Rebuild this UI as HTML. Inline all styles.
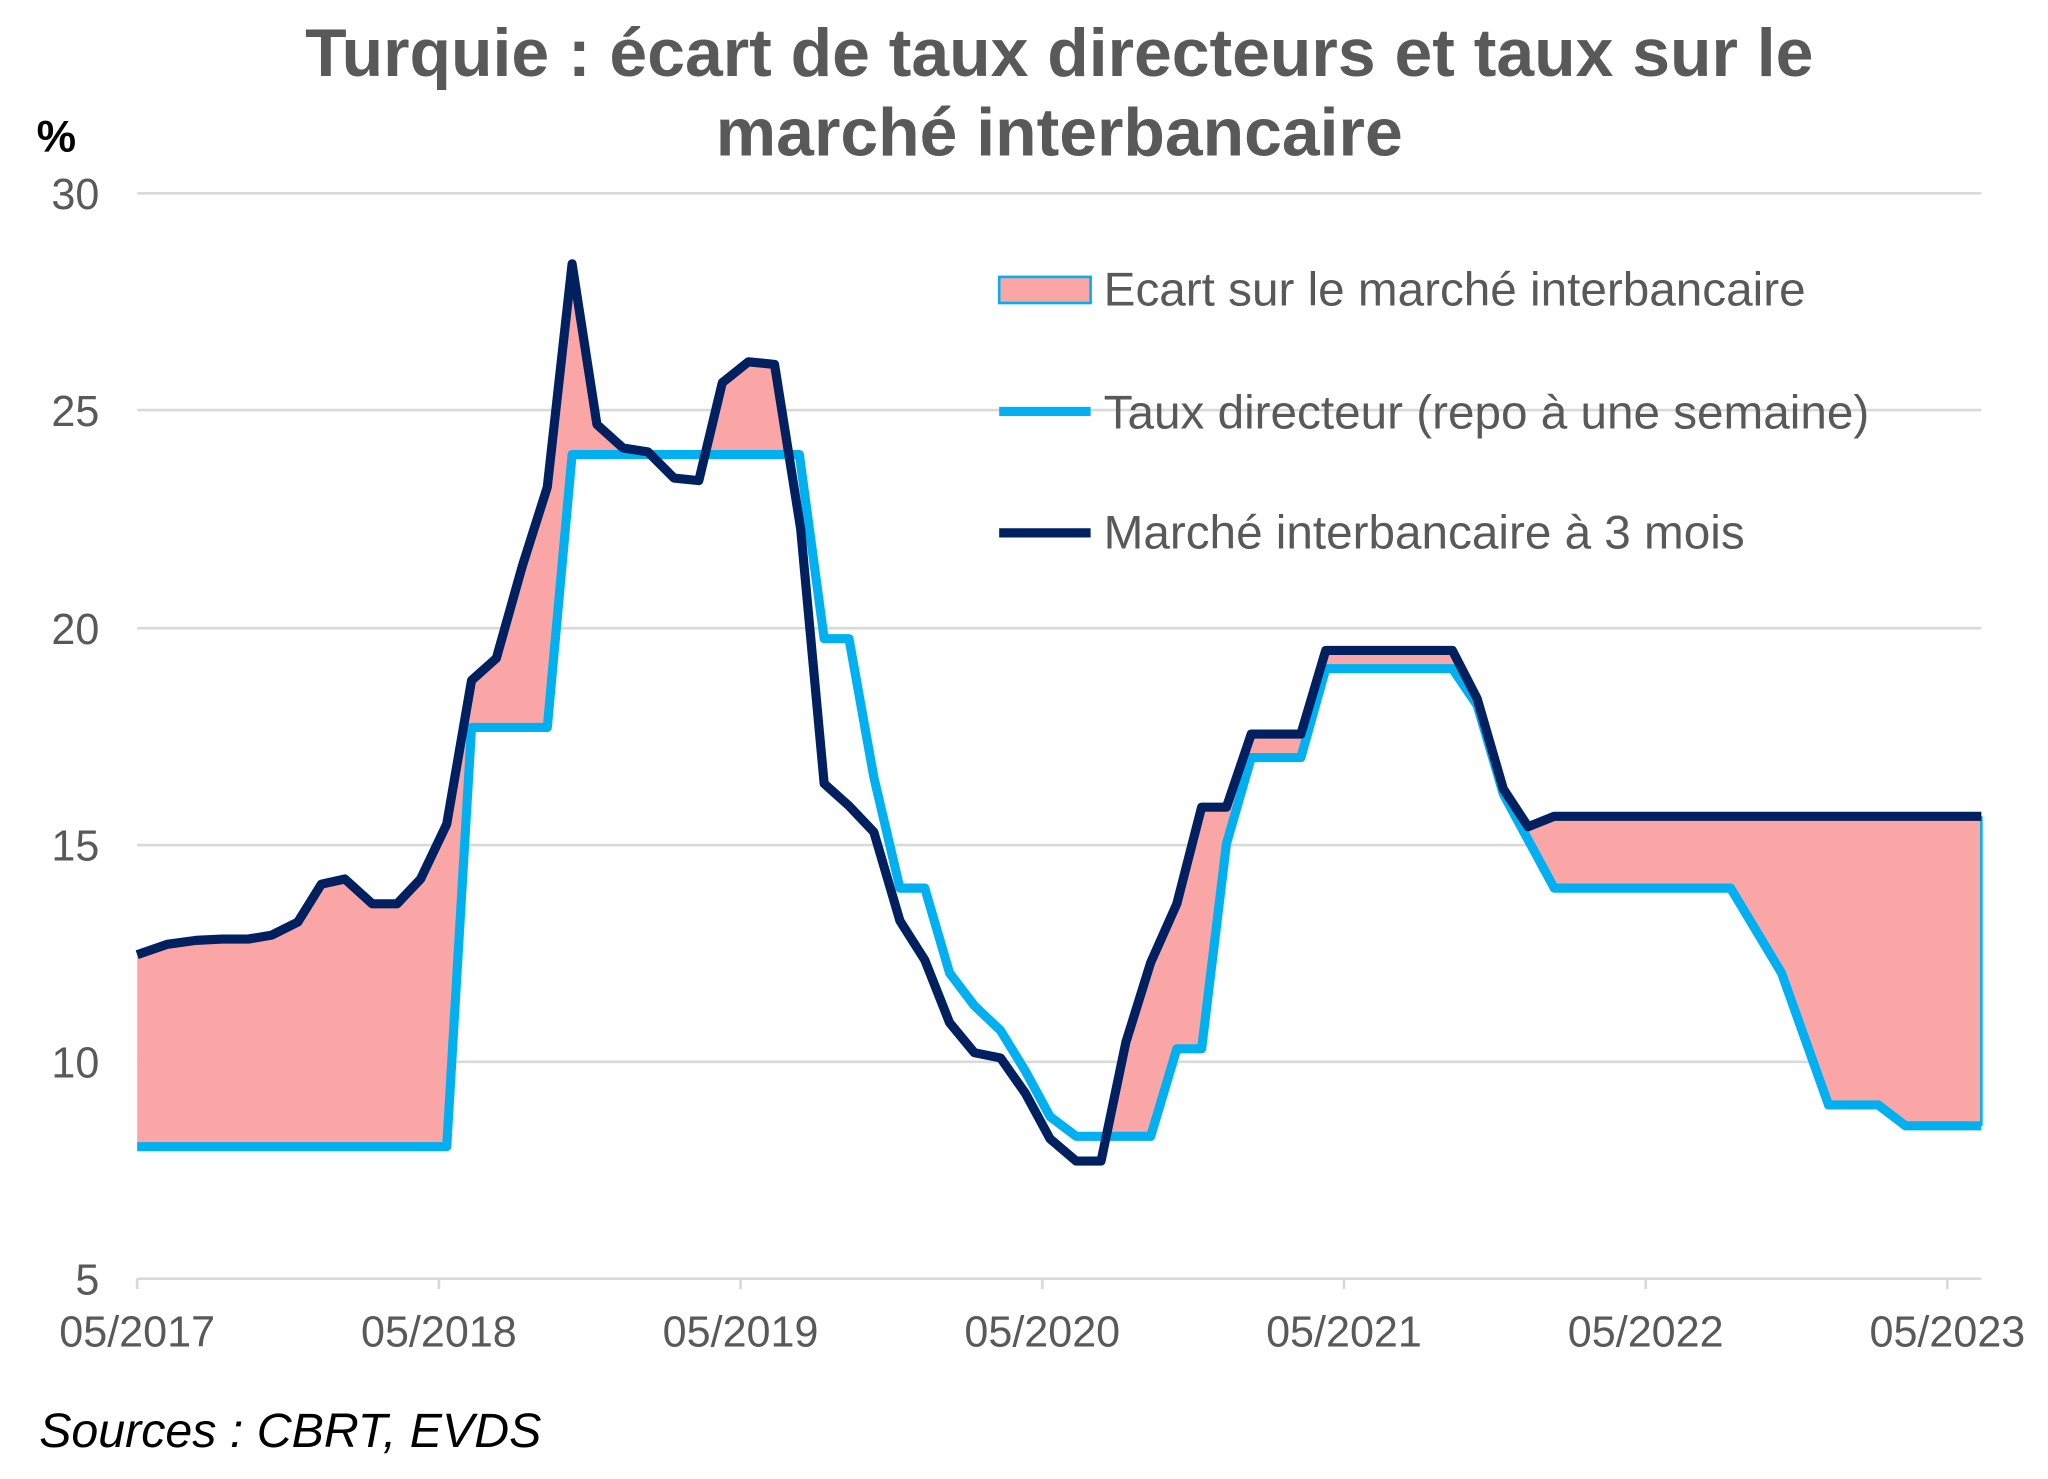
<!DOCTYPE html>
<html><head><meta charset="utf-8"><style>
html,body{margin:0;padding:0;background:#fff;}
svg{display:block;}
text{font-family:"Liberation Sans",Arial,sans-serif;}
</style></head><body>
<svg id="s" width="2048" height="1479" viewBox="0 0 1568 1132.4" xmlns="http://www.w3.org/2000/svg">
<rect width="1568" height="1133" fill="#fff"/>
<text x="811" y="58" text-anchor="middle" font-size="52" font-weight="bold" fill="#595959">Turquie : écart de taux directeurs et taux sur le</text>
<text x="811" y="119" text-anchor="middle" font-size="52" font-weight="bold" fill="#595959">marché interbancaire</text>
<text x="28" y="116" font-size="34" font-weight="bold" fill="#000">%</text>
<g stroke="#d9d9d9" stroke-width="2">
<line x1="105" y1="148" x2="1517" y2="148"/><line x1="105" y1="314" x2="1517" y2="314"/>
<line x1="105" y1="481" x2="1517" y2="481"/><line x1="105" y1="647" x2="1517" y2="647"/>
<line x1="105" y1="813" x2="1517" y2="813"/><line x1="105" y1="979" x2="1517" y2="979"/>
<line x1="105" y1="979" x2="105" y2="987"/><line x1="336" y1="979" x2="336" y2="987"/>
<line x1="567" y1="979" x2="567" y2="987"/><line x1="798" y1="979" x2="798" y2="987"/>
<line x1="1029" y1="979" x2="1029" y2="987"/><line x1="1260" y1="979" x2="1260" y2="987"/>
<line x1="1491" y1="979" x2="1491" y2="987"/>
</g>
<g font-size="33" fill="#595959" text-anchor="end">
<text x="76" y="160">30</text><text x="76" y="326">25</text><text x="76" y="493">20</text>
<text x="76" y="659">15</text><text x="76" y="825">10</text><text x="76" y="991">5</text>
</g>
<g font-size="33" fill="#595959" text-anchor="middle">
<text x="105" y="1031">05/2017</text><text x="336" y="1031">05/2018</text><text x="567" y="1031">05/2019</text>
<text x="798" y="1031">05/2020</text><text x="1029" y="1031">05/2021</text><text x="1260" y="1031">05/2022</text>
<text x="1491" y="1031">05/2023</text>
</g>
<path id="fill" fill="#fba6a6" stroke="none"/>
<line x1="1517" y1="625" x2="1517" y2="862" stroke="#00b0f0" stroke-width="2"/>
<polyline id="blue" fill="none" stroke="#00b0f0" stroke-width="7" stroke-linejoin="round"/>
<polyline id="navy" fill="none" stroke="#002060" stroke-width="7" stroke-linejoin="round"/>
<rect x="765" y="212" width="70" height="20" fill="#fba6a6" stroke="#00b0f0" stroke-width="2"/>
<line x1="765" y1="315" x2="835" y2="315" stroke="#00b0f0" stroke-width="7"/>
<line x1="765" y1="408" x2="835" y2="408" stroke="#002060" stroke-width="7"/>
<g font-size="36.5" fill="#595959">
<text x="845" y="234">Ecart sur le marché interbancaire</text>
<text x="845" y="328">Taux directeur (repo à une semaine)</text>
<text x="845" y="420">Marché interbancaire à 3 mois</text>
</g>
<text x="30" y="1108" font-size="37" font-style="italic" fill="#000">Sources : CBRT, EVDS</text>
</svg>
<script>
(function(){
var N=[[105,731],[128,723],[150,720],[170,719],[190,719],[208,716],[228,706],[246,677],[264,673],[285,692],[304,692],[322,673],[342,631],[361,521],[380,504],[400,433],[419,373],[438,202],[457,325],[477,343],[496,346],[516,366],[535,368],[553,293],[573,277],[593,279],[613,405],[631,600],[650,617],[669,637],[689,705],[708,735],[727,783],[746,806],[766,810],[785,837],[804,872],[824,889],[843,889],[862,798],[881,737],[901,692],[920,618],[939,618],[958,562],[978,562],[996,562],[1015,498],[1112,498],[1131,535],[1151,604],[1170,633],[1190,625],[1517,625]];
var B=[[105,878],[342,878],[361,557],[419,557],[438,348],[612,348],[631,489],[650,489],[669,595],[689,680],[708,680],[727,745],[746,770],[766,789],[785,820],[804,855],[824,870],[881,870],[901,803],[920,803],[939,646],[958,580],[996,580],[1015,512],[1112,512],[1131,540],[1151,608],[1190,680],[1325,680],[1364,745],[1400,846],[1438,846],[1459,862],[1517,862]];
function s(a){return a.map(function(p){return p.join(',')}).join(' ');}
document.getElementById('navy').setAttribute('points',s(N));
document.getElementById('blue').setAttribute('points',s(B));
function at(a,x){for(var i=0;i<a.length-1;i++){if(x>=a[i][0]&&x<=a[i+1][0]){var t=(x-a[i][0])/((a[i+1][0]-a[i][0])||1);return a[i][1]+t*(a[i+1][1]-a[i][1]);}}return a[a.length-1][1];}
var upper=[],lower=[];
for(var x=105;x<=1517;x+=0.5){var yn=at(N,x),yb=at(B,x);upper.push([x,yn]);lower.push([x,Math.max(yn,yb)]);}
lower.reverse();
document.getElementById('fill').setAttribute('d','M'+upper.concat(lower).map(function(p){return p[0]+' '+p[1].toFixed(1)}).join('L')+'Z');
})();
</script>
</body></html>
